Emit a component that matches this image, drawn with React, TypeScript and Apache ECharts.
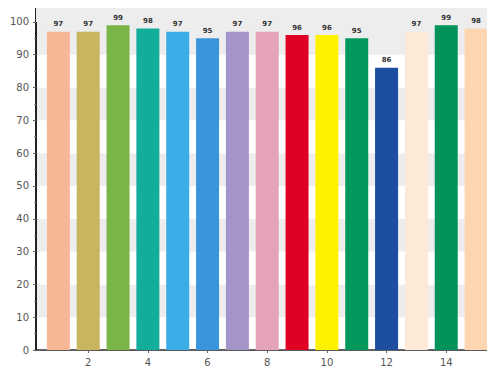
import React, { useEffect, useRef } from "react";
import * as echarts from "echarts";

const xValues = [1, 2, 3, 4, 5, 6, 7, 8, 9, 10, 11, 12, 13, 14, 15];
const values = [97, 97, 99, 98, 97, 95, 97, 97, 96, 96, 95, 86, 97, 99, 98];
const barColors = [
  "#f7b797", "#c9b45f", "#7ab548", "#13ad9c", "#3badE6", "#3a95da", "#a594c9", "#e5a3b7",
  "#df0024", "#fff200", "#00995b", "#1e4e9f", "#fde9d7", "#00935a", "#fdd6b1",
];
const xTickValues = [2, 4, 6, 8, 10, 12, 14];

export default function App() {
  const ref = useRef<HTMLDivElement>(null);
  useEffect(() => {
    if (!ref.current) return;
    const chart = echarts.init(ref.current, null, { renderer: "svg" });
    chart.setOption({
      animation: false,
      backgroundColor: "#ffffff",
      grid: {
        left: 36,
        right: 4,
        top: 5.5,
        bottom: 24,
        show: true,
        borderColor: "#b0b0b0",
        borderWidth: 1,
        backgroundColor: "transparent",
      },
      xAxis: {
        type: "value",
        min: 0.25,
        max: 15.5,
        splitLine: { show: false },
        axisLine: { show: true, onZero: false, lineStyle: { color: "#333", width: 1.5 } },
        axisTick: { show: true, customValues: xTickValues, length: 3, lineStyle: { color: "#666" } },
        axisLabel: {
          customValues: xTickValues,
          color: "#555",
          fontSize: 10,
          fontFamily: "DejaVu Sans",
          margin: 7,
        },
      },
      yAxis: {
        type: "value",
        min: 0,
        max: 105,
        interval: 10,
        axisLine: { show: true, lineStyle: { color: "#222", width: 2 } },
        axisTick: { show: true, length: 3, lineStyle: { color: "#666" } },
        minorTick: { show: true, splitNumber: 2, length: 2, lineStyle: { color: "#888" } },
        axisLabel: {
          color: "#555",
          fontSize: 10,
          fontFamily: "DejaVu Sans",
          margin: 7,
          formatter: (v: number) => (v > 100 ? "" : String(v)),
        },
        splitLine: { show: false },
        splitArea: { show: true, areaStyle: { color: ["#ffffff", "#ededed"] } },
      },
      series: [
        {
          type: "bar",
          barWidth: 23,
          data: values.map((v, i) => ({
            value: [xValues[i], v],
            itemStyle: { color: barColors[i] },
          })),
          label: {
            show: true,
            position: "top",
            distance: 4,
            fontSize: 7,
            fontWeight: "bold",
            color: "#333",
            fontFamily: "DejaVu Sans",
            formatter: (p: any) => String(p.value[1]),
          },
          markArea: {
            silent: true,
            itemStyle: { color: "#ededed" },
            data: [[{ yAxis: 100 }, { yAxis: 105 }]],
          },
        },
      ],
    });
    return () => chart.dispose();
  }, []);
  return <div ref={ref} style={{ width: 495, height: 374, margin: -8 }} />;
}
